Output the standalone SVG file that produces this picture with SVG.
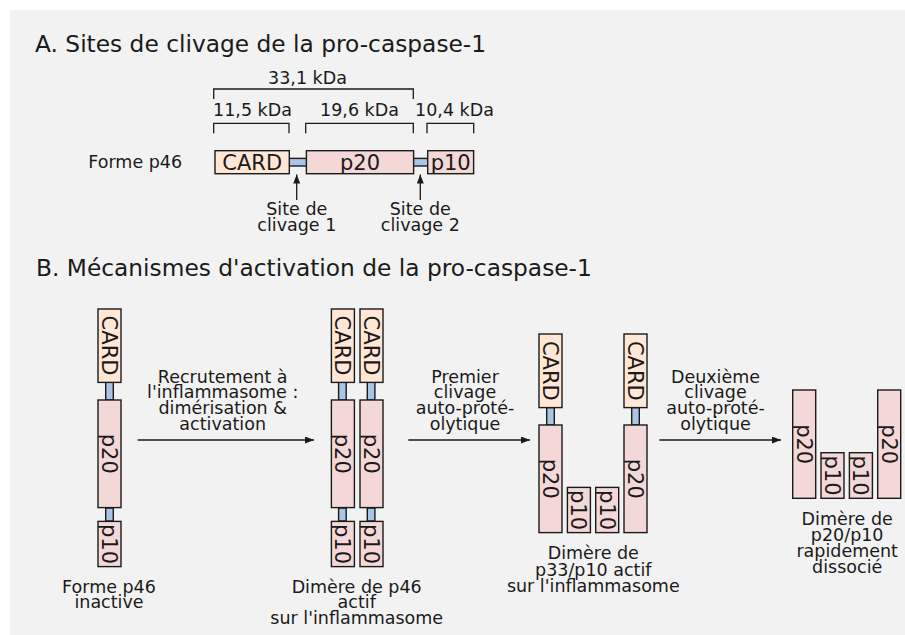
<svg xmlns="http://www.w3.org/2000/svg" width="905" height="635" viewBox="0 0 905 635">
<style>
text{font-family:"DejaVu Sans","Liberation Sans",sans-serif;fill:#1a1a1a}
.t{font-size:23.3px}
.l{font-size:17.5px}
.c{text-anchor:middle}
.b{font-size:21px;text-anchor:middle}
.card{fill:#ffe6d5;stroke:#1a1a1a;stroke-width:1.4}
.p{fill:#f4d7d7;stroke:#1a1a1a;stroke-width:1.4}
.lk{fill:#aac4e6;stroke:#1a1a1a;stroke-width:1.4}
.br{fill:none;stroke:#1a1a1a;stroke-width:1.3}
.ar{fill:none;stroke:#1a1a1a;stroke-width:1.3;marker-end:url(#ah)}
</style>
<defs>
<marker id="ah" markerUnits="userSpaceOnUse" markerWidth="10" markerHeight="8" refX="9" refY="3.5" orient="auto">
<path d="M0,0 L9,3.5 L0,7 z" fill="#1a1a1a"/>
</marker>
</defs>
<rect x="10" y="10" width="895" height="625" fill="#f2f2f2"/>

<text class="t" x="35" y="51.7">A. Sites de clivage de la pro-caspase-1</text>
<text class="t" x="36" y="276">B. Mécanismes d'activation de la pro-caspase-1</text>

<g id="brackets">
<path class="br" d="M213.7,99 V89 H413.3 V99"/>
<path class="br" d="M213.7,133.3 V123.3 H289 V133.3"/>
<path class="br" d="M305.7,133.3 V123.3 H413.3 V133.3"/>
<path class="br" d="M427,133.3 V123.3 H473.7 V133.3"/>
<text class="l c" x="307.5" y="84.3">33,1 kDa</text>
<text class="l c" x="252.5" y="115.7">11,5 kDa</text>
<text class="l c" x="359.5" y="115.7">19,6 kDa</text>
<text class="l c" x="454.5" y="115.7">10,4 kDa</text>
</g>

<g id="forme-p46-horizontal">
<text class="l" x="88.3" y="167.7">Forme p46</text>
<rect class="lk" x="289" y="158.4" width="18" height="7.6"/>
<rect class="lk" x="413" y="158.4" width="15" height="7.6"/>
<rect class="card" x="215" y="150.7" width="74.3" height="23"/>
<rect class="p" x="306.4" y="150.7" width="107.2" height="23"/>
<rect class="p" x="427.7" y="150.7" width="45.9" height="23"/>
<text class="b" x="252.2" y="169.8">CARD</text>
<text class="b" x="360" y="169.8">p20</text>
<text class="b" x="450.7" y="169.8">p10</text>
</g>

<g id="site1">
<text class="l c" x="296.8" y="215">Site de</text>
<text class="l c" x="296.8" y="230.7">clivage 1</text>
</g>
<g id="site2">
<text class="l c" x="420.3" y="215">Site de</text>
<text class="l c" x="420.3" y="230.7">clivage 2</text>
</g>

<g id="monomer">
<rect class="lk" x="105.7" y="382" width="7.6" height="18"/>
<rect class="lk" x="105.7" y="508" width="7.6" height="13"/>
<rect class="card" x="98" y="309" width="23" height="73.4"/>
<rect class="p" x="98" y="400" width="23" height="107.6"/>
<rect class="p" x="98" y="521.4" width="23" height="45.2"/>
<text class="b" transform="translate(109.5,345.5) rotate(90)" x="0" y="7.6">CARD</text>
<text class="b" transform="translate(109.5,453.8) rotate(90)" x="0" y="7.6">p20</text>
<text class="b" transform="translate(109.5,544) rotate(90)" x="0" y="7.6">p10</text>
<text class="l c" x="109" y="592.7">Forme p46</text>
<text class="l c" x="109" y="608.4">inactive</text>
</g>

<g id="dimer-p46">
<rect class="lk" x="338.6" y="382" width="7.6" height="18"/>
<rect class="lk" x="338.6" y="508" width="7.6" height="13"/>
<rect class="card" x="331.4" y="309" width="23" height="73.4"/>
<rect class="p" x="331.4" y="400" width="23" height="107.6"/>
<rect class="p" x="331.4" y="521.4" width="23" height="45.2"/>
<rect class="lk" x="367.3" y="382" width="7.6" height="18"/>
<rect class="lk" x="367.3" y="508" width="7.6" height="13"/>
<rect class="card" x="360" y="309" width="23" height="73.4"/>
<rect class="p" x="360" y="400" width="23" height="107.6"/>
<rect class="p" x="360" y="521.4" width="23" height="45.2"/>
<text class="b" transform="translate(342.9,345.5) rotate(90)" x="0" y="7.6">CARD</text>
<text class="b" transform="translate(342.9,453.8) rotate(90)" x="0" y="7.6">p20</text>
<text class="b" transform="translate(342.9,544) rotate(90)" x="0" y="7.6">p10</text>
<text class="b" transform="translate(371.5,345.5) rotate(90)" x="0" y="7.6">CARD</text>
<text class="b" transform="translate(371.5,453.8) rotate(90)" x="0" y="7.6">p20</text>
<text class="b" transform="translate(371.5,544) rotate(90)" x="0" y="7.6">p10</text>
<text class="l c" x="356.7" y="592.7">Dimère de p46</text>
<text class="l c" x="356.7" y="608.4">actif</text>
<text class="l c" x="356.7" y="624.1">sur l'inflammasome</text>
</g>

<g id="dimer-p33-p10">
<rect class="lk" x="546.7" y="407.6" width="7.6" height="17.4"/>
<rect class="card" x="539" y="334" width="23" height="73.6"/>
<rect class="p" x="539" y="425" width="23" height="107.6"/>
<rect class="p" x="567.4" y="487.4" width="23" height="45.2"/>
<rect class="p" x="595.7" y="487.4" width="23" height="45.2"/>
<rect class="lk" x="631.7" y="407.6" width="7.6" height="17.4"/>
<rect class="card" x="624" y="334" width="23" height="73.6"/>
<rect class="p" x="624" y="425" width="23" height="107.6"/>
<text class="b" transform="translate(550.5,370.8) rotate(90)" x="0" y="7.6">CARD</text>
<text class="b" transform="translate(550.5,478.8) rotate(90)" x="0" y="7.6">p20</text>
<text class="b" transform="translate(578.9,510) rotate(90)" x="0" y="7.6">p10</text>
<text class="b" transform="translate(607.2,510) rotate(90)" x="0" y="7.6">p10</text>
<text class="b" transform="translate(635.5,370.8) rotate(90)" x="0" y="7.6">CARD</text>
<text class="b" transform="translate(635.5,478.8) rotate(90)" x="0" y="7.6">p20</text>
<text class="l c" x="593.3" y="559.3">Dimère de</text>
<text class="l c" x="593.3" y="575.5">p33/p10 actif</text>
<text class="l c" x="593.3" y="591.7">sur l'inflammasome</text>
</g>

<g id="dimer-p20-p10">
<rect class="p" x="792.7" y="390" width="23" height="108.3"/>
<rect class="p" x="821" y="452.7" width="23" height="45.6"/>
<rect class="p" x="849.4" y="452.7" width="23" height="45.6"/>
<rect class="p" x="877.7" y="390" width="23" height="108.3"/>
<text class="b" transform="translate(804.3,444.2) rotate(90)" x="0" y="7.6">p20</text>
<text class="b" transform="translate(832.6,475.5) rotate(90)" x="0" y="7.6">p10</text>
<text class="b" transform="translate(861,475.5) rotate(90)" x="0" y="7.6">p10</text>
<text class="b" transform="translate(889.3,444.2) rotate(90)" x="0" y="7.6">p20</text>
<text class="l c" x="847.2" y="525">Dimère de</text>
<text class="l c" x="847.2" y="540.9">p20/p10</text>
<text class="l c" x="847.2" y="556.8">rapidement</text>
<text class="l c" x="847.2" y="572.7">dissocié</text>
</g>

<g id="connectors">
<line class="ar" x1="296.7" y1="200" x2="296.7" y2="174.5"/>
<line class="ar" x1="420.3" y1="200" x2="420.3" y2="174.5"/>
<line class="ar" x1="137.7" y1="440" x2="314" y2="440"/>
<line class="ar" x1="408.3" y1="440" x2="530" y2="440"/>
<line class="ar" x1="659.3" y1="440" x2="781" y2="440"/>
</g>

<g id="labels-arrows">
<text class="l c" x="222.7" y="382.6">Recrutement à</text>
<text class="l c" x="222.7" y="398.4">l'inflammasome :</text>
<text class="l c" x="222.7" y="414.2">dimérisation &amp;</text>
<text class="l c" x="222.7" y="430">activation</text>
<text class="l c" x="465" y="382.6">Premier</text>
<text class="l c" x="465" y="398.4">clivage</text>
<text class="l c" x="465" y="414.2">auto-proté-</text>
<text class="l c" x="465" y="430">olytique</text>
<text class="l c" x="715.5" y="382.6">Deuxième</text>
<text class="l c" x="715.5" y="398.4">clivage</text>
<text class="l c" x="715.5" y="414.2">auto-proté-</text>
<text class="l c" x="715.5" y="430">olytique</text>
</g>
</svg>
